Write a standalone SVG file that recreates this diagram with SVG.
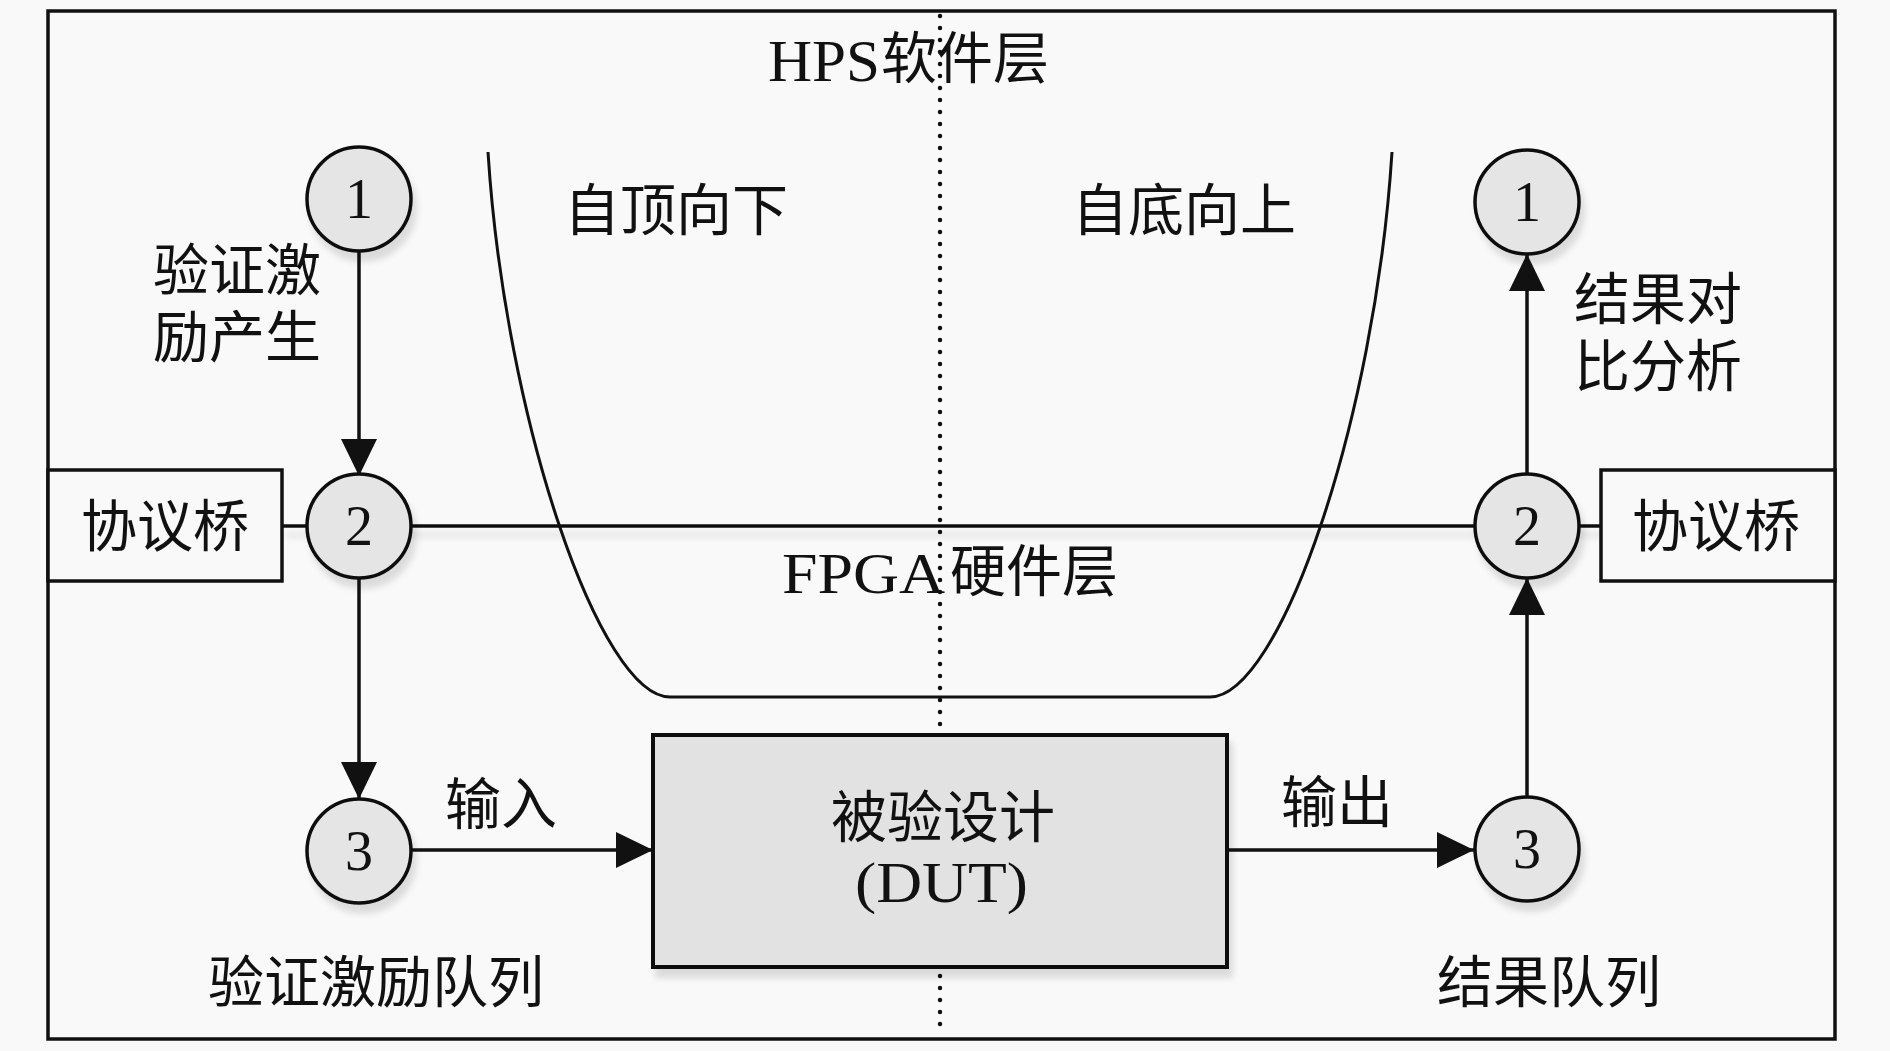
<svg xmlns="http://www.w3.org/2000/svg" width="1890" height="1051" viewBox="0 0 1890 1051">
<style>
.cjk{font-family:"Noto Sans CJK SC","Noto Sans CJK JP",sans-serif;font-size:56px;fill:#111}
.lat{font-family:"Liberation Serif","DejaVu Serif",serif;fill:#111}
.num{font-family:"Liberation Serif","DejaVu Serif",serif;font-size:56px;fill:#111;text-anchor:middle}
.node{fill:#e5e5e5;stroke:#111;stroke-width:3.5}
.box{fill:#f9f9f9;stroke:#111;stroke-width:3.5}
.conn{stroke:#111;stroke-width:3.5;fill:none}
</style>
<defs>
<marker id="arr" markerUnits="userSpaceOnUse" markerWidth="38" markerHeight="36" refX="37" refY="18" orient="auto">
<path d="M0,0 L37,18 L0,36 Z" fill="#111"/>
</marker>
<filter id="sh" filterUnits="userSpaceOnUse" x="0" y="0" width="1890" height="1051">
<feDropShadow dx="4" dy="9" stdDeviation="3" flood-color="#000" flood-opacity="0.12"/>
</filter>
</defs>
<rect x="0" y="0" width="1890" height="1051" fill="#f9f9f9"/>
<rect x="48" y="11" width="1787" height="1028" fill="none" stroke="#111" stroke-width="3.5"/>
<line x1="940" y1="16" x2="940" y2="1036" stroke="#111" stroke-width="4.5" stroke-linecap="round" stroke-dasharray="0 12"/>
<path d="M488,152 C505,420 600,697 670,697 L1210,697 C1280,697 1375,420 1392,152" fill="none" stroke="#111" stroke-width="3"/>

<g id="connectors">
<line class="conn" x1="282" y1="526" x2="1601" y2="526" filter="url(#sh)"/>
<line class="conn" x1="359" y1="251" x2="359" y2="476" marker-end="url(#arr)"/>
<line class="conn" x1="359" y1="578" x2="359" y2="799" marker-end="url(#arr)"/>
<line class="conn" x1="411" y1="850" x2="653" y2="850" marker-end="url(#arr)"/>
<line class="conn" x1="1227" y1="850" x2="1474" y2="850" marker-end="url(#arr)"/>
<line class="conn" x1="1527" y1="797" x2="1527" y2="578" marker-end="url(#arr)"/>
<line class="conn" x1="1527" y1="474" x2="1527" y2="254" marker-end="url(#arr)"/>
</g>

<g id="bridge-left">
<rect class="box" x="48" y="470" width="234" height="111"/>
<text class="cjk" x="165" y="546" text-anchor="middle">协议桥</text>
</g>
<g id="bridge-right">
<rect class="box" x="1601" y="470" width="234" height="111"/>
<text class="cjk" x="1716" y="546" text-anchor="middle">协议桥</text>
</g>

<g id="dut">
<rect x="653" y="735" width="574" height="232" fill="#e2e2e2" stroke="#111" stroke-width="4" filter="url(#sh)"/>
<text class="cjk" x="943" y="837" text-anchor="middle">被验设计</text>
<text class="lat" x="855" y="902" font-size="56" textLength="173" lengthAdjust="spacingAndGlyphs">(DUT)</text>
</g>

<g id="node-l1"><circle class="node" cx="359" cy="199" r="52" filter="url(#sh)"/><text class="num" x="359" y="218">1</text></g>
<g id="node-l2"><circle class="node" cx="359" cy="526" r="52" filter="url(#sh)"/><text class="num" x="359" y="545">2</text></g>
<g id="node-l3"><circle class="node" cx="359" cy="851" r="52" filter="url(#sh)"/><text class="num" x="359" y="870">3</text></g>
<g id="node-r1"><circle class="node" cx="1527" cy="202" r="52" filter="url(#sh)"/><text class="num" x="1527" y="221">1</text></g>
<g id="node-r2"><circle class="node" cx="1527" cy="526" r="52" filter="url(#sh)"/><text class="num" x="1527" y="545">2</text></g>
<g id="node-r3"><circle class="node" cx="1527" cy="849" r="52" filter="url(#sh)"/><text class="num" x="1527" y="868">3</text></g>

<g id="labels">
<text class="lat" x="768" y="81" font-size="60" textLength="112" lengthAdjust="spacingAndGlyphs">HPS</text>
<text class="cjk" x="881" y="78" font-size="57">软件层</text>
<text class="lat" x="782" y="593" font-size="58" textLength="163" lengthAdjust="spacingAndGlyphs">FPGA</text>
<text class="cjk" x="950" y="591" font-size="57">硬件层</text>
<text class="cjk" x="564" y="230">自顶向下</text>
<text class="cjk" x="1072" y="230">自底向上</text>
<text class="cjk"><tspan x="153" y="290">验证激</tspan><tspan x="153" y="357">励产生</tspan></text>
<text class="cjk"><tspan x="1574" y="319">结果对</tspan><tspan x="1574" y="386">比分析</tspan></text>
<text class="cjk" x="445" y="824">输入</text>
<text class="cjk" x="1281" y="822">输出</text>
<text class="cjk" x="208" y="1002">验证激励队列</text>
<text class="cjk" x="1437" y="1002">结果队列</text>
</g>
</svg>
